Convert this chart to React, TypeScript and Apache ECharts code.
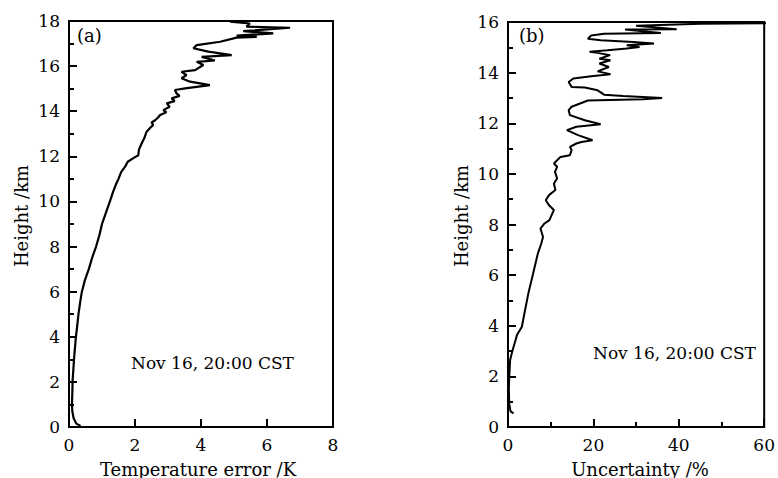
import React, { useEffect, useRef } from "react";
import * as echarts from "echarts";

// Panel (a): temperature error (K) vs height (km)
const errValues = [
  0.35, 0.22, 0.14, 0.1, 0.09, 0.1, 0.11, 0.13, 0.15, 0.18, 0.21, 0.25, 0.29, 0.34, 0.39, 0.48, 0.6,
  0.7, 0.82, 0.92, 1.0, 1.12, 1.24, 1.33, 1.42, 1.5, 1.58, 1.7, 1.78, 1.95, 2.1, 2.12, 2.2, 2.28,
  2.35, 2.45, 2.55, 2.5, 2.61, 2.7, 2.76, 2.95, 2.86, 3.05, 2.96, 3.2, 3.11, 3.35, 3.26, 3.21, 3.52,
  4.27, 3.67, 3.41, 3.56, 3.41, 3.82, 4.07, 3.87, 4.42, 4.02, 4.93, 4.22, 3.77, 3.87, 4.58, 5.08,
  5.69, 5.08, 6.19, 5.28, 6.7, 5.38, 5.48, 4.88, 5.2,
];
const errHeights = [
  0.05, 0.15, 0.39, 0.7, 1.0, 1.5, 2.08, 2.5, 2.97, 3.5, 4.0, 4.5, 5.04, 5.55, 6.0, 6.5, 7.0,
  7.5, 8.0, 8.5, 9.0, 9.5, 10.0, 10.4, 10.75, 11.0, 11.3, 11.54, 11.76, 11.92, 12.05, 12.3, 12.57, 12.8,
  13.09, 13.25, 13.39, 13.5, 13.6, 13.72, 13.83, 13.95, 14.05, 14.2, 14.35, 14.45, 14.57, 14.68, 14.79, 14.94, 15.01,
  15.16, 15.31, 15.46, 15.6, 15.75, 15.82, 16.05, 16.19, 16.25, 16.41, 16.49, 16.64, 16.79, 16.93, 17.08, 17.26,
  17.3, 17.35, 17.45, 17.55, 17.7, 17.75, 17.89, 17.97, 18.05,
];

// Panel (b): uncertainty (%) vs height (km)
const uncValues = [
  1.3, 0.6, 0.3, 0.2, 0.3, 0.5, 0.98, 2.1, 3.25, 4.0, 4.77, 5.9, 7.0, 7.8, 8.2, 7.6, 8.55, 9.7,
  10.4, 10.75, 9.6, 8.85, 9.6, 11.1, 10.75, 11.5, 11.0, 11.5, 10.75, 12.3, 14.5, 14.9, 14.5, 16.0,
  17.2, 19.8, 16.4, 13.8, 16.0, 21.7, 18.0, 14.5, 14.2, 14.9, 18.7, 31.6, 36.1, 27.0, 22.5, 21.0,
  18.0, 14.9, 14.2, 15.3, 19.5, 24.0, 21.0, 23.6, 21.4, 24.0, 21.4, 23.9, 21.0, 19.1, 23.3, 27.8,
  30.8, 27.8, 34.2, 29.3, 21.7, 18.7, 19.5, 22.5, 35.8, 27.4, 39.5, 30.0, 45.0, 65.0,
];
const uncHeights = [
  0.54, 0.62, 0.9, 1.5, 2.0, 2.65, 2.97, 3.63, 3.96, 4.62, 5.28, 6.07, 6.86, 7.25, 7.51, 7.84, 8.04, 8.17,
  8.44, 8.57, 8.76, 8.96, 9.16, 9.36, 9.62, 9.82, 10.08, 10.28, 10.41, 10.67, 10.74, 10.94, 11.07, 11.2,
  11.26, 11.33, 11.53, 11.73, 11.86, 11.96, 12.12, 12.32, 12.52, 12.65, 12.9, 12.95, 13.0, 13.08, 13.13, 13.3,
  13.41, 13.43, 13.63, 13.77, 13.86, 13.94, 14.05, 14.22, 14.36, 14.49, 14.55, 14.69, 14.78, 14.82, 14.88, 14.95,
  15.01, 15.08, 15.15, 15.21, 15.28, 15.34, 15.47, 15.54, 15.57, 15.7, 15.71, 15.85, 15.93, 15.96,
];

const FONT = "DejaVu Serif";

export default function App() {
  const ref = useRef<HTMLDivElement>(null);
  useEffect(() => {
    const chart = echarts.init(ref.current!, null, { renderer: "svg" });
    const axisCommon = {
      type: "value",
      axisLine: { show: true, onZero: false, lineStyle: { color: "#000", width: 2 } },
      axisTick: { show: true, inside: true, length: 8, lineStyle: { color: "#000", width: 2 } },
      axisLabel: { fontFamily: FONT, fontSize: 17, color: "#000", margin: 9 },
      splitLine: { show: false },
    };
    const minor = { show: true, splitNumber: 2, length: 5, lineStyle: { color: "#000", width: 2 } };
    const txt = (x: number, y: number, text: string, size: number, align = "left", rot = 0) => ({
      type: "text",
      x,
      y,
      rotation: rot,
      style: {
        text,
        fontFamily: FONT,
        fontSize: size,
        fill: "#000",
        align,
        verticalAlign: "middle",
      },
    });
    chart.setOption({
      animation: false,
      backgroundColor: "#fff",
      grid: [
        { left: 69, top: 21, width: 264, height: 406, show: true, borderColor: "#000", borderWidth: 2, backgroundColor: "transparent" },
        { left: 508, top: 22, width: 264, height: 405, show: true, borderColor: "#000", borderWidth: 2, backgroundColor: "transparent" },
      ],
      xAxis: [
        { ...axisCommon, gridIndex: 0, min: 0, max: 8, interval: 2 },
        { ...axisCommon, gridIndex: 1, min: 0, max: 60, interval: 20, minorTick: minor },
      ],
      yAxis: [
        { ...axisCommon, gridIndex: 0, min: 0, max: 18, interval: 2, minorTick: minor },
        { ...axisCommon, gridIndex: 1, min: 0, max: 16, interval: 2, minorTick: minor },
      ],
      series: [
        {
          type: "line",
          xAxisIndex: 0,
          yAxisIndex: 0,
          data: errValues.map((v, i) => [v, errHeights[i]]),
          showSymbol: false,
          symbol: "none",
          clip: true,
          lineStyle: { color: "#000", width: 2.2 },
        },
        {
          type: "line",
          xAxisIndex: 1,
          yAxisIndex: 1,
          data: uncValues.map((v, i) => [v, uncHeights[i]]),
          showSymbol: false,
          symbol: "none",
          clip: true,
          lineStyle: { color: "#000", width: 2 },
        },
      ],
      graphic: [
        txt(21, 216, "Height /km", 18, "center", Math.PI / 2),
        txt(461, 216, "Height /km", 18, "center", Math.PI / 2),
        txt(198, 469, "Temperature error /K", 18, "center"),
        txt(640, 469, "Uncertainty /%", 18, "center"),
        txt(77, 35, "(a)", 18),
        txt(519, 35.5, "(b)", 18),
        txt(131, 363, "Nov 16, 20:00 CST", 17),
        txt(593, 353, "Nov 16, 20:00 CST", 17),
      ],
    });
    return () => chart.dispose();
  }, []);
  return <div ref={ref} style={{ position: "fixed", left: 0, top: 0, width: 778, height: 478 }} />;
}
